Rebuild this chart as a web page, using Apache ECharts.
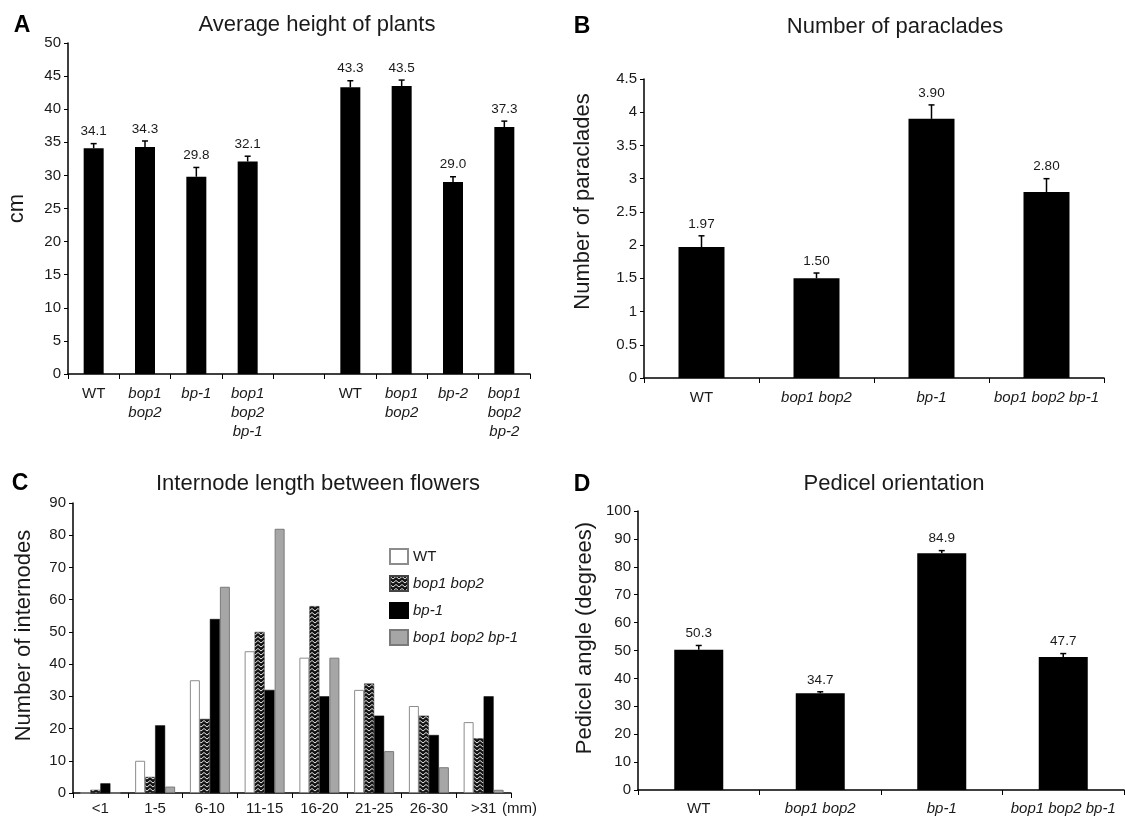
<!DOCTYPE html>
<html>
<head>
<meta charset="utf-8">
<script src="https://cdn.jsdelivr.net/npm/echarts@6/dist/echarts.min.js"></script>
<style>
html,body{margin:0;padding:0;background:#fff;}
#c{width:1125px;height:816px;}
</style>
</head>
<body>
<div id="c"></div>
<script>
// ---------- DATA ----------
const heightCats = ['WT', 'bop1\nbop2', 'bp-1', 'bop1\nbop2\nbp-1', '', 'WT', 'bop1\nbop2', 'bp-2', 'bop1\nbop2\nbp-2'];
const heightVals = [34.1, 34.3, 29.8, 32.1, null, 43.3, 43.5, 29.0, 37.3];
const heightErr  = [0.7, 0.9, 1.4, 0.8, null, 1.0, 0.9, 0.8, 0.9];

const paraCats = ['WT', 'bop1 bop2', 'bp-1', 'bop1 bop2 bp-1'];
const paraVals = [1.97, 1.50, 3.90, 2.80];
const paraErr  = [0.17, 0.08, 0.21, 0.20];

const interCats = ['<1', '1-5', '6-10', '11-15', '16-20', '21-25', '26-30', '>31'];
const interNames = ['WT', 'bop1 bop2', 'bp-1', 'bop1 bop2 bp-1'];
const interWT    = [0, 10, 35, 44, 42, 32, 27, 22];
const interBop   = [1, 5, 23, 50, 58, 34, 24, 17];
const interBp1   = [3, 21, 54, 32, 30, 24, 18, 30];
const interTrip  = [0, 2, 64, 82, 42, 13, 8, 1];

const pedCats = ['WT', 'bop1 bop2', 'bp-1', 'bop1 bop2 bp-1'];
const pedVals = [50.3, 34.7, 84.9, 47.7];
const pedErr  = [1.5, 0.5, 0.9, 1.2];

// ---------- STYLE HELPERS ----------
const FF = "'Liberation Sans', Arial, Helvetica, sans-serif";
const TXT = '#1a1a1a';

function makeHatch() {
  const c = document.createElement('canvas');
  c.width = 6; c.height = 4;
  const g = c.getContext('2d');
  g.fillStyle = '#141414';
  g.fillRect(0, 0, 6, 4);
  g.strokeStyle = '#e8e8e8';
  g.lineWidth = 1;
  g.beginPath();
  g.moveTo(0, 0.5); g.lineTo(3, 3.0); g.lineTo(6, 0.5);
  g.stroke();
  return c;
}
const hatch = { image: makeHatch(), repeat: 'repeat' };

function catFmt(v) {
  if (!v) return '';
  return v.split('\n').map(s => (s === 'WT' ? '{n|' + s + '}' : '{i|' + s + '}')).join('\n');
}
function catLabel(margin, size) {
  return {
    interval: 0, margin: margin, formatter: catFmt, color: TXT,
    rich: {
      n: { fontFamily: FF, fontSize: size, color: TXT, lineHeight: 19 },
      i: { fontFamily: FF, fontSize: size, color: TXT, fontStyle: 'italic', lineHeight: 19 }
    }
  };
}
const axisLineStyle = { show: true, lineStyle: { color: '#000', width: 1.5 } };
function yAxis(grid, max, interval, name, gap, shift) {
  return {
    gridIndex: grid, type: 'value', min: 0, max: max, interval: interval,
    name: name, nameLocation: 'middle', nameGap: gap,
    nameTextStyle: { fontFamily: FF, fontSize: 22, color: TXT, padding: [0, 0, 0, shift] },
    axisLine: axisLineStyle,
    axisTick: { show: true, length: 4, lineStyle: { color: '#000', width: 1 } },
    axisLabel: { fontFamily: FF, fontSize: 15, color: TXT, margin: 7 },
    splitLine: { show: false }
  };
}
function xAxis(grid, data, margin, size) {
  return {
    gridIndex: grid, type: 'category', data: data,
    axisLine: axisLineStyle,
    axisTick: { show: true, length: 5, lineStyle: { color: '#000', width: 1 } },
    axisLabel: catLabel(margin, size),
    splitLine: { show: false }
  };
}
function errSeries(grid, vals, errs, dec, fs) {
  const data = vals.map((v, i) => [i, v, errs[i]]).filter(d => d[1] != null);
  return {
    type: 'custom', xAxisIndex: grid, yAxisIndex: grid, z: 5, silent: true,
    data: data,
    renderItem: function (params, api) {
      const i = api.value(0), v = api.value(1), e = api.value(2);
      const p0 = api.coord([i, v]);
      const p1 = api.coord([i, v + e]);
      return {
        type: 'group',
        children: [
          { type: 'line', shape: { x1: p0[0], y1: p0[1], x2: p1[0], y2: p1[1] }, style: { stroke: '#000', lineWidth: 1.5 } },
          { type: 'line', shape: { x1: p1[0] - 3, y1: p1[1], x2: p1[0] + 3, y2: p1[1] }, style: { stroke: '#000', lineWidth: 1.5 } },
          { type: 'text', x: p1[0], y: p1[1] - 5,
            style: { text: v.toFixed(dec), align: 'center', verticalAlign: 'bottom', fontFamily: FF, fontSize: fs, fill: TXT } }
        ]
      };
    }
  };
}
function blackBars(grid, vals, width) {
  return {
    type: 'bar', xAxisIndex: grid, yAxisIndex: grid, barWidth: width,
    data: vals.map(v => (v == null ? '-' : v)),
    itemStyle: { color: '#000' }, silent: true
  };
}
function titleText(x, y, text) {
  return { type: 'text', x: x, y: y, style: { text: text, align: 'center', verticalAlign: 'middle', fontFamily: FF, fontSize: 22, fill: TXT } };
}
function letterText(x, y, text) {
  return { type: 'text', x: x, y: y, style: { text: text, align: 'center', verticalAlign: 'middle', fontFamily: FF, fontSize: 23, fontWeight: 'bold', fill: '#000' } };
}

const chart = echarts.init(document.getElementById('c'), null, { renderer: 'canvas' });

const cX = xAxis(2, interCats, 8, 15);
cX.axisLabel = { interval: 0, margin: 8, fontFamily: FF, fontSize: 15, color: TXT };
cX.name = '(mm)';
cX.nameLocation = 'end';
cX.nameGap = -9;
cX.nameTextStyle = { fontFamily: FF, fontSize: 15, color: TXT, verticalAlign: 'top', padding: [8, 0, 0, 0] };

const interStyles = [
  { color: '#ffffff', borderColor: '#8c8c8c', borderWidth: 1 },
  { color: hatch, borderColor: '#444', borderWidth: 0.5 },
  { color: '#000000', borderColor: '#000', borderWidth: 0.5 },
  { color: '#a6a6a6', borderColor: '#7a7a7a', borderWidth: 1 }
];
const interData = [interWT, interBop, interBp1, interTrip];

const option = {
  animation: false,
  backgroundColor: '#ffffff',
  grid: [
    { left: 68, top: 43, width: 462, height: 331 },
    { left: 644, top: 79, width: 460, height: 299 },
    { left: 73, top: 503, width: 438, height: 291 },
    { left: 638, top: 511, width: 486, height: 280 }
  ],
  xAxis: [
    xAxis(0, heightCats, 10, 15),
    xAxis(1, paraCats, 10, 15),
    cX,
    xAxis(3, pedCats, 9, 15)
  ],
  yAxis: [
    yAxis(0, 50, 5, 'cm', 40, 0),
    yAxis(1, 4.5, 0.5, 'Number of paraclades', 50, 54),
    yAxis(2, 90, 10, 'Number of internodes', 38, 25),
    yAxis(3, 100, 10, 'Pedicel angle (degrees)', 42, 25)
  ],
  legend: {
    data: interNames, orient: 'vertical', left: 389, top: 548, padding: 0,
    itemWidth: 18, itemHeight: 15, itemGap: 10, icon: 'rect',
    selectedMode: false,
    formatter: function (n) { return n === 'WT' ? '{n|' + n + '}' : '{i|' + n + '}'; },
    textStyle: {
      fontFamily: FF, fontSize: 15, color: TXT,
      rich: { n: { fontFamily: FF, fontSize: 15, color: TXT }, i: { fontFamily: FF, fontSize: 15, color: TXT, fontStyle: 'italic' } }
    }
  },
  graphic: [
    letterText(22, 26, 'A'), titleText(317, 25, 'Average height of plants'),
    letterText(582, 27, 'B'), titleText(895, 27, 'Number of paraclades'),
    letterText(20, 484, 'C'), titleText(318, 484, 'Internode length between flowers'),
    letterText(582, 485, 'D'), titleText(894, 484, 'Pedicel orientation')
  ],
  series: [
    blackBars(0, heightVals, 20),
    errSeries(0, heightVals, heightErr, 1, 13.5),
    blackBars(1, paraVals, 46),
    errSeries(1, paraVals, paraErr, 2, 13.5),
    blackBars(3, pedVals, 49),
    errSeries(3, pedVals, pedErr, 1, 13.5)
  ].concat(interNames.map((n, k) => ({
    name: n, type: 'bar', xAxisIndex: 2, yAxisIndex: 2, barWidth: 10, barGap: '0%',
    data: interData[k], itemStyle: interStyles[k], silent: true
  })))
};
chart.setOption(option);
</script>
</body>
</html>
